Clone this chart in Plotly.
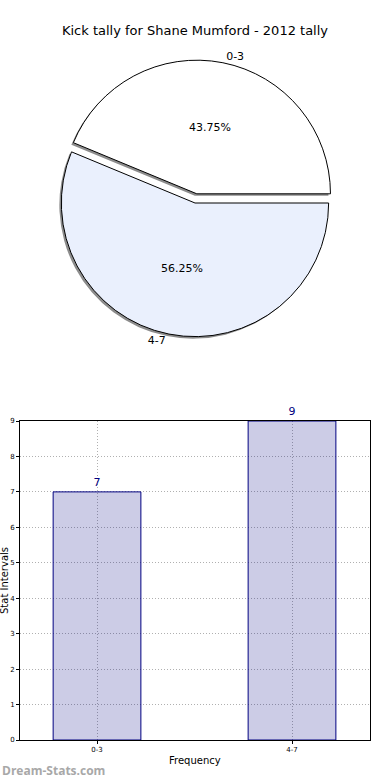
import plotly.graph_objects as go

title_text = "Kick tally for Shane Mumford - 2012 tally"
categories = ["0-3", "4-7"]
values = [7, 9]
pie_colors = ["#FFFFFF", "#EAF0FD"]
pulls = [0.07, 0.0]
y_ticks = list(range(0, 10))
x_title = "Frequency"
y_title = "Stat Intervals"
watermark = "Dream-Stats.com"

FONT = "DejaVu Sans"
W, H = 390, 780
ML, MR, MT, MB = 20, 20, 0, 40
PW, PH = W - ML - MR, H - MT - MB


def px_x(x0, x1):
    return [(x0 - ML) / PW, (x1 - ML) / PW]


def px_y(top, bottom):
    return [(H - MB - bottom) / PH, (H - MB - top) / PH]


pie_dom_x = px_x(52, 338)
pie_dom_y = px_y(60, 346)
shadow_dom_x = px_x(50, 336)
shadow_dom_y = px_y(62, 348)

# first slice starts counter-clockwise from 3 o'clock (matplotlib startangle 0)
rotation = 90 - 360 * values[0] / sum(values)

fig = go.Figure()

common = dict(labels=categories, values=values, sort=False, direction="clockwise",
              rotation=rotation, pull=pulls, showlegend=False)

# shadow
fig.add_trace(go.Pie(
    **common, marker=dict(colors=["#8c8c8c"] * 2, line=dict(width=0)),
    textinfo="none", hoverinfo="skip",
    domain=dict(x=shadow_dom_x, y=shadow_dom_y),
))
# main pie with percentages
fig.add_trace(go.Pie(
    **common,
    marker=dict(colors=pie_colors, line=dict(color="#000000", width=1)),
    texttemplate="%{percent:.2%}", textposition="inside",
    insidetextorientation="horizontal",
    textfont=dict(family=FONT, size=11, color="#000000"),
    domain=dict(x=pie_dom_x, y=pie_dom_y),
))
# outside labels
fig.add_trace(go.Pie(
    **common,
    marker=dict(colors=["rgba(0,0,0,0)"] * 2, line=dict(width=0)),
    textinfo="label", textposition="outside",
    outsidetextfont=dict(family=FONT, size=11, color="#000000"),
    hoverinfo="skip", domain=dict(x=pie_dom_x, y=pie_dom_y),
))

# bar chart
fig.add_trace(go.Bar(
    x=categories, y=values, width=0.45,
    marker=dict(color="rgba(0,0,128,0.2)", line=dict(color="#000080", width=1)),
    text=[str(v) for v in values], textposition="outside",
    textfont=dict(family=FONT, size=11, color="#000080"),
    cliponaxis=False, showlegend=False,
    xaxis="x", yaxis="y",
))

grid = dict(showgrid=True, gridcolor="#b0b0b0", griddash="1px,2px", gridwidth=1)

fig.update_layout(
    width=W, height=H,
    margin=dict(l=ML, r=MR, t=MT, b=MB, autoexpand=False),
    paper_bgcolor="white", plot_bgcolor="white",
    font=dict(family=FONT, color="#000000"),
    title=dict(text=title_text, x=0.5, xanchor="center", y=1 - 30 / H, yanchor="middle",
               font=dict(family=FONT, size=13, color="#000000")),
    xaxis=dict(
        domain=[0, 1], range=[-0.395, 1.4], type="category", automargin=False,
        showline=True, linecolor="#000000", linewidth=1, mirror=True,
        ticks="outside", ticklen=3, tickcolor="#000000",
        tickfont=dict(family=FONT, size=7, color="#000000"),
        zeroline=False, **grid,
    ),
    yaxis=dict(
        domain=px_y(421, 740), range=[0, 9], tickvals=y_ticks, automargin=False,
        showline=True, linecolor="#000000", linewidth=1, mirror=True,
        ticks="outside", ticklen=3, tickcolor="#000000",
        tickfont=dict(family=FONT, size=7, color="#000000"),
        zeroline=False, **grid,
    ),
    annotations=[
        dict(text=x_title, xref="paper", yref="paper", x=0.5, xanchor="center",
             y=-20 / PH, yanchor="middle", showarrow=False,
             font=dict(family=FONT, size=10, color="#000000")),
        dict(text=y_title, xref="paper", yref="paper", x=-15.5 / PW, xanchor="center",
             y=sum(px_y(421, 740)) / 2, yanchor="middle", textangle=-90, showarrow=False,
             font=dict(family=FONT, size=10, color="#000000")),
        dict(text="<b>" + watermark + "</b>", xref="paper", yref="paper",
             x=-ML / PW, xanchor="left", y=-30 / PH, yanchor="middle",
             showarrow=False, font=dict(family="Open Sans", size=12, color="#a8a8a8")),
    ],
)

fig.write_html("out.html", config={"displayModeBar": False},
               post_script="document.body.style.margin='0';")
